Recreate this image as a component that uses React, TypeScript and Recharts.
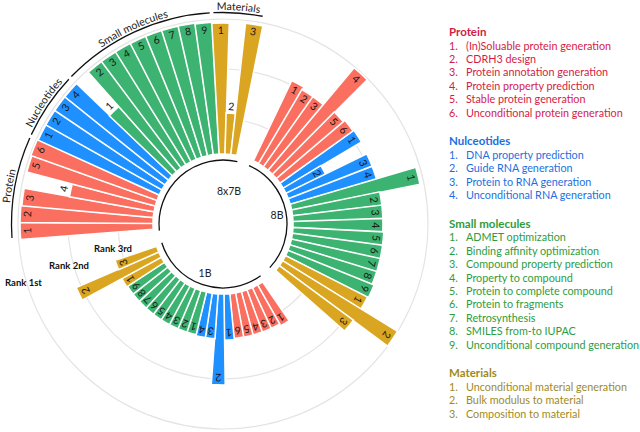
import React from "react";
import { RadialBarChart, RadialBar, PolarAngleAxis, PolarRadiusAxis, PolarGrid, Cell, LabelList } from "recharts";

const models = ["8x7B", "8B", "1B"];
const categoryNames = ["Protein", "Nucleotides", "Small molecules", "Materials"];
const categorySizes = [6, 4, 9, 3];
const legendTitles = ["Protein", "Nulceotides", "Small molecules", "Materials"];

const proteinTasks = [
  "(In)Soluable protein generation",
  "CDRH3 design",
  "Protein annotation generation",
  "Protein property prediction",
  "Stable protein generation",
  "Unconditional protein generation",
];
const nucleotideTasks = [
  "DNA property prediction",
  "Guide RNA generation",
  "Protein to RNA generation",
  "Unconditional RNA generation",
];
const smallMoleculeTasks = [
  "ADMET optimization",
  "Binding affinity optimization",
  "Compound property prediction",
  "Property to compound",
  "Protein to complete compound",
  "Protein to fragments",
  "Retrosynthesis",
  "SMILES from-to IUPAC",
  "Unconditional compound generation",
];
const materialTasks = [
  "Unconditional material generation",
  "Bulk modulus to material",
  "Composition to material",
];

// bar length on the rank scale: 3 = Rank 1st ring, 2 = Rank 2nd, 1 = Rank 3rd
// order: protein 1-6, nucleotides 1-4, small molecules 1-9, materials 1-3
const score8x7B = [2.96, 2.96, 2.94, 2.02, 2.96, 2.98, 2.96, 2.96, 2.96, 2.96, 2.04, 2.96, 2.96, 2.96, 2.96, 2.96, 2.96, 2.96, 2.94, 2.92, 1.12, 2.94];
const score8B = [2.08, 2.02, 2.02, 2.98, 2.06, 2.1, 2.12, 1.18, 2.1, 2.1, 2.92, 2.1, 2.1, 2.1, 2.12, 2.12, 2.12, 2.12, 2.16, 2.14, 3.0, 2.14];
const score1B = [1.24, 1.2, 1.2, 1.2, 1.2, 1.2, 1.22, 2.12, 1.2, 1.2, 1.18, 1.18, 1.18, 1.18, 1.18, 1.18, 1.18, 1.18, 1.18, 1.2, 2.1, 1.18];

const rankTicks = [1, 2, 3];
const BAR_BASE = 0.3; // bars start a little outside the inner circle

const barColors = ["#fa6f5f", "#1e90ff", "#3cb371", "#daa520"];
const legendColors = ["#d41c45", "#1b6fe0", "#2e9c3c", "#a08a1c"];
const FONT = "Lato, 'Open Sans', sans-serif";

const GAP_SLOTS = 3;
const scores = [score8x7B, score8B, score1B];

type Row = { key: string; cat: number; num: number | null; score: number | null };
const rows: Row[] = [];
models.forEach((m, gi) => {
  let k = 0;
  categorySizes.forEach((size, ci) => {
    for (let j = 0; j < size; j++) {
      rows.push({ key: `${m}-${ci}-${j + 1}`, cat: ci, num: j + 1, score: scores[gi][k] });
      k++;
    }
  });
  for (let g = 0; g < GAP_SLOTS; g++) rows.push({ key: `${m}-gap${g}`, cat: -1, num: null, score: null });
});

// labels drawn past the bar end
const outsideLabels = ["8x7B-0-4", "8x7B-2-1", "8x7B-3-2"];

const CX = 223;
const CY = 224;
const START = 179.4;
const STEP = 360 / rows.length;
const RAD = Math.PI / 180;
// centre angle of slot i as recharts lays the bands out
const slotMid = (i: number) => START + 2.5 - STEP * i;

const pt = (r: number, a: number) => [CX + r * Math.cos(a * RAD), CY - r * Math.sin(a * RAD)];
const arcPath = (r: number, a1: number, a2: number) => {
  const [x1, y1] = pt(r, a1);
  const [x2, y2] = pt(r, a2);
  const large = a1 - a2 > 180 ? 1 : 0;
  return `M${x1},${y1} A${r},${r} 0 ${large} 1 ${x2},${y2}`;
};

const renderNum = (props: any) => {
  const { viewBox, value, index } = props;
  if (value == null || !viewBox) return null;
  const { cx, cy, outerRadius, startAngle, endAngle } = viewBox;
  const mid = (startAngle + endAngle) / 2;
  const idx = typeof index === "number" ? index : Math.round((START + 2.5 - mid) / STEP);
  const row = rows[idx];
  const out = row && outsideLabels.includes(row.key);
  const r = out ? outerRadius + 7 : outerRadius - 7;
  const x = cx + r * Math.cos(-mid * RAD);
  const y = cy + r * Math.sin(-mid * RAD);
  return (
    <text x={x} y={y} textAnchor="middle" dominantBaseline="central" fontSize={10.5} fontFamily={FONT} fill="#1a1a1a" transform={`rotate(${90 - mid},${x},${y})`}>
      {value}
    </text>
  );
};

const legendSections = [proteinTasks, nucleotideTasks, smallMoleculeTasks, materialTasks];

function Overlay() {
  const half = STEP / 2;
  const groupArcs = models.map((m, gi) => {
    const s0 = gi * (22 + GAP_SLOTS);
    return { m, a1: slotMid(s0) + half + 1.7, a2: slotMid(s0 + 21) - half - 1.7 };
  });
  const catArcs: { name: string; a1: number; a2: number }[] = [];
  let s = 0;
  categorySizes.forEach((size, ci) => {
    catArcs.push({ name: categoryNames[ci], a1: slotMid(s) + half - 0.5, a2: slotMid(s + size - 1) - half + 0.5 });
    s += size;
  });

  let y = 35.7;
  const legend: React.ReactNode[] = [];
  legendSections.forEach((items, si) => {
    legend.push(
      <text key={`h${si}`} x={449} y={y} fontSize={11.5} fontWeight={700} fill={legendColors[si]}>
        {legendTitles[si]}
      </text>
    );
    y += 13.8;
    items.forEach((t, i) => {
      legend.push(
        <g key={`i${si}-${i}`} fill={legendColors[si]} fontSize={10.8}>
          <text x={449} y={y}>{`${i + 1}.`}</text>
          <text x={466} y={y}>{t}</text>
        </g>
      );
      y += 13.4;
    });
    y += 28.5 - 13.4;
  });

  return (
    <svg width={640} height={432} style={{ position: "absolute", left: 0, top: 0, pointerEvents: "none" }} fontFamily={FONT}>
      <defs>
        {catArcs.map((c, i) => (
          <path key={i} id={`catpath${i}`} d={arcPath(214, c.a1, c.a2)} fill="none" />
        ))}
      </defs>
      {groupArcs.map((g) => (
        <path key={g.m} d={arcPath(64, g.a1, g.a2)} fill="none" stroke="#111" strokeWidth={1.3} />
      ))}
      {catArcs.map((c, i) => (
        <g key={c.name}>
          <path d={arcPath(211.5, c.a1, c.a2)} fill="none" stroke="#111" strokeWidth={1.3} />
          <text fontSize={10.6} fill="#222">
            <textPath href={`#catpath${i}`} startOffset="50%" textAnchor="middle">
              {c.name}
            </textPath>
          </text>
        </g>
      ))}
      <text x={229} y={195} textAnchor="middle" fontSize={10.5} fill="#222">8x7B</text>
      <text x={277} y={219} textAnchor="middle" fontSize={10.5} fill="#222">8B</text>
      <text x={205} y={277} textAnchor="middle" fontSize={10.5} fill="#222">1B</text>
      <text x={113} y={252} textAnchor="middle" fontSize={9.5} fontWeight={700} fill="#111">Rank 3rd</text>
      <text x={69} y={269} textAnchor="middle" fontSize={9.5} fontWeight={700} fill="#111">Rank 2nd</text>
      <text x={23.5} y={286} textAnchor="middle" fontSize={9.5} fontWeight={700} fill="#111">Rank 1st</text>
      {legend}
    </svg>
  );
}

export default function App() {
  return (
    <div style={{ position: "absolute", left: 0, top: 0, width: 640, height: 432, background: "#fff" }}>
      <RadialBarChart
        width={640}
        height={432}
        cx={CX}
        cy={CY}
        innerRadius={55}
        outerRadius={205}
        startAngle={START}
        endAngle={START - 360}
        data={rows}
        layout="centric"
        barCategoryGap={0}
        margin={{ top: 0, right: 0, bottom: 0, left: 0 }}
      >
        <PolarGrid gridType="circle" radialLines={false} stroke="#e4e4e4" strokeWidth={1.2} />
        <PolarAngleAxis type="category" dataKey="key" tick={false} axisLine={false} />
        <PolarRadiusAxis type="number" domain={[0, 3]} ticks={rankTicks} tick={false} axisLine={false} allowDataOverflow />
        <RadialBar
          dataKey={(r: Row) => (r.score == null ? null : [BAR_BASE, r.score])}
          isAnimationActive={false}
          stroke="#fff"
          strokeWidth={1.6}
        >
          {rows.map((r) => (
            <Cell key={r.key} fill={r.cat < 0 ? "none" : barColors[r.cat]} stroke={r.cat < 0 ? "none" : "#fff"} />
          ))}
          <LabelList dataKey="num" content={renderNum} />
        </RadialBar>
      </RadialBarChart>
      <Overlay />
    </div>
  );
}
